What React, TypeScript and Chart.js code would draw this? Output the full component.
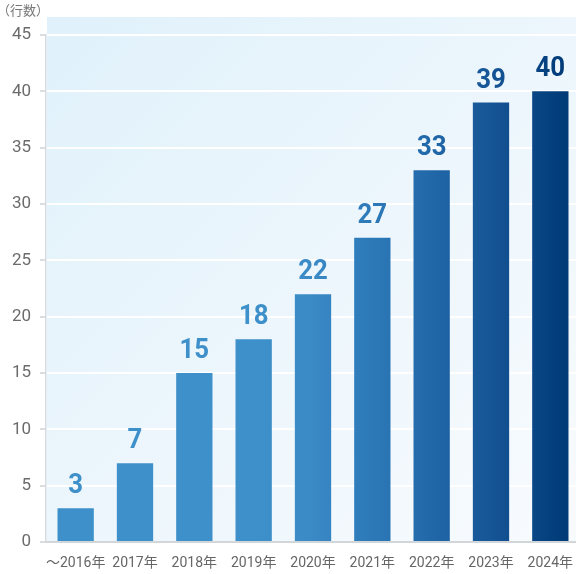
import React, { useEffect, useRef } from "react";
import { Chart, registerables } from "chart.js";

Chart.register(...registerables);

const categories = ["～2016年", "2017年", "2018年", "2019年", "2020年", "2021年", "2022年", "2023年", "2024年"];
const values = [3, 7, 15, 18, 22, 27, 33, 39, 40];
const yMax = 45;
const yStep = 5;
const unitLabel = "（行数）";

const gradStops: [number, string][] = [
  [260, "#3d90c9"],
  [312, "#3a8ac6"],
  [372, "#2d79b8"],
  [431, "#2168a8"],
  [490, "#165596"],
  [568, "#003a77"],
];

function makeGrad(ctx: CanvasRenderingContext2D, w: number) {
  const g = ctx.createLinearGradient(0, 0, w, 0);
  gradStops.forEach(([x, c]) => g.addColorStop(Math.min(1, Math.max(0, x / w)), c));
  return g;
}

export default function App() {
  const ref = useRef<HTMLCanvasElement | null>(null);

  useEffect(() => {
    document.body.style.margin = "0";
    const canvas = ref.current;
    if (!canvas) return;
    let grad: CanvasGradient | null = null;

    const bgPlugin = {
      id: "bg",
      beforeDraw(chart: any) {
        const { ctx, chartArea } = chart;
        const top = 17;
        const left = chartArea.left + 1;
        const right = 576;
        const g = ctx.createLinearGradient(left, top, right, chartArea.bottom);
        g.addColorStop(0, "#e0f1fb");
        g.addColorStop(0.5, "#ecf6fc");
        g.addColorStop(1, "#f8fbfe");
        ctx.save();
        ctx.fillStyle = g;
        ctx.fillRect(left, top, right - left, chartArea.bottom - top);
        ctx.restore();
      },
      afterDraw(chart: any) {
        const { ctx } = chart;
        ctx.save();
        ctx.font = '13px "Noto Sans CJK JP"';
        ctx.fillStyle = "#777";
        ctx.textBaseline = "middle";
        ctx.textAlign = "left";
        ctx.fillText(unitLabel, -3, 10);
        ctx.restore();
      },
    };

    const labelPlugin = {
      id: "vlabels",
      afterDatasetsDraw(chart: any) {
        const { ctx } = chart;
        const meta = chart.getDatasetMeta(0);
        ctx.save();
        ctx.font = "bold 28px Roboto";
        ctx.textAlign = "center";
        ctx.textBaseline = "alphabetic";
        const sx = 0.92;
        meta.data.forEach((bar: any, i: number) => {
          ctx.save();
          ctx.translate(bar.x, bar.y - 15);
          ctx.scale(sx, 1);
          ctx.translate(-bar.x / sx, 0);
          const g = ctx.createLinearGradient(0, 0, chart.width / sx, 0);
          gradStops.forEach(([x, c]) => g.addColorStop(Math.min(1, Math.max(0, x / chart.width)), c));
          ctx.fillStyle = g;
          ctx.fillText(String(values[i]), bar.x / sx, 0);
          ctx.restore();
        });
        ctx.restore();
      },
    };

    const chart = new Chart(canvas, {
      type: "bar",
      data: {
        labels: categories,
        datasets: [
          {
            data: values,
            backgroundColor: (c: any) => {
              const ch = c.chart;
              if (!grad) grad = makeGrad(ch.ctx, ch.width);
              return grad;
            },
            borderWidth: 0,
            categoryPercentage: 1,
            barPercentage: 0.612,
          },
        ],
      },
      options: {
        animation: false,
        responsive: false,
        devicePixelRatio: 1,
        layout: { padding: { top: 35, left: 0, right: 0, bottom: 0 } },
        plugins: {
          legend: { display: false },
          tooltip: { enabled: false },
          title: { display: false },
        },
        scales: {
          x: {
            afterFit: (s: any) => {
              s.height = 32;
              s.paddingLeft = 0;
              s.paddingRight = 0;
            },
            grid: { display: false, drawTicks: false },
            border: { display: true, color: "#d3d6d9", width: 2 },
            ticks: {
              padding: 13,
              color: "#666",
              font: { family: 'Roboto, "Noto Sans CJK JP"', size: 14 },
              maxRotation: 0,
              autoSkip: false,
            },
          },
          y: {
            min: 0,
            max: yMax,
            afterFit: (s: any) => {
              s.width = 46;
            },
            grid: {
              color: (c: any) => (c.tick && c.tick.value === 0 ? "rgba(0,0,0,0)" : "#ffffff"),
              lineWidth: 2,
              tickColor: "#cfd3d6",
              tickLength: 6,
              tickWidth: 1.5,
            },
            border: { display: true, color: "#d5dbe0", width: 1.5 },
            ticks: {
              stepSize: yStep,
              padding: 9,
              color: "#6b6b6b",
              font: { family: "Roboto", size: 17 },
            },
          },
        },
      },
      plugins: [bgPlugin, labelPlugin],
    });

    return () => chart.destroy();
  }, []);

  return (
    <div style={{ width: 576, height: 574, overflow: "hidden", position: "relative" }}>
      <canvas ref={ref} width={580} height={574} style={{ display: "block", width: 580, height: 574 }} />
    </div>
  );
}
